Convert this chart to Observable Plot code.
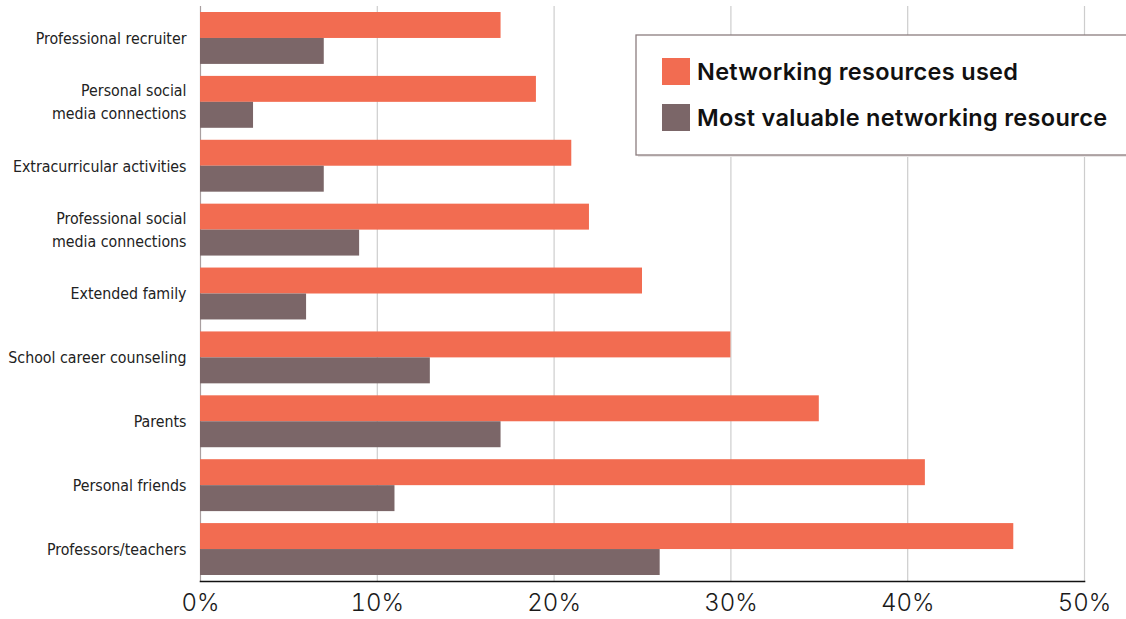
<!DOCTYPE html>
<html>
<head>
<meta charset="utf-8">
<script src="https://cdn.jsdelivr.net/npm/d3@7"></script>
<script src="https://cdn.jsdelivr.net/npm/@observablehq/plot@0.6"></script>
<style>
  html, body { margin: 0; padding: 0; background: #fff; }
  #chart { width: 1126px; height: 619px; overflow: hidden; }
</style>
</head>
<body>
<div id="chart"></div>
<script>
const categories = [
  "Professional recruiter",
  "Personal social\nmedia connections",
  "Extracurricular activities",
  "Professional social\nmedia connections",
  "Extended family",
  "School career counseling",
  "Parents",
  "Personal friends",
  "Professors/teachers"
];
const usedValues = [17, 19, 21, 22, 25, 30, 35, 41, 46];
const valuableValues = [7, 3, 7, 9, 6, 13, 17, 11, 26];
const seriesNames = ["Networking resources used", "Most valuable networking resource"];
const seriesColors = ["#F26C51", "#7B6668"];
const xTicks = [0, 10, 20, 30, 40, 50];

const rows = categories.map((c, i) => ({category: c, used: usedValues[i], valuable: valuableValues[i]}));

const W = 1126, H = 619, mT = 6, mB = 38, mL = 200, mR = 42;
const padIn = 0.1875, padOut = 0.094;
const step = (H - mT - mB) / (categories.length - padIn + 2 * padOut);
const half = step * (1 - padIn) / 2;

const chart = Plot.plot({
  width: W, height: H,
  marginTop: mT, marginBottom: mB, marginLeft: mL, marginRight: mR,
  style: {fontFamily: "'DejaVu Sans Condensed', 'Liberation Sans Narrow', sans-serif", background: "#fff"},
  x: {domain: [0, 50], ticks: xTicks, tickFormat: d => d + "%"},
  y: {domain: categories, paddingInner: padIn, paddingOuter: padOut, round: false, label: null},
  marks: [
    Plot.ruleX(xTicks.slice(1), {stroke: "#cdcdcd", strokeWidth: 1.2}),
    Plot.ruleX([0], {stroke: "#a99fa0", strokeWidth: 1.2}),
    Plot.barX(rows, {x: "used", y: "category", fill: seriesColors[0], insetBottom: half}),
    Plot.barX(rows, {x: "valuable", y: "category", fill: seriesColors[1], insetTop: half}),
    Plot.frame({anchor: "bottom", stroke: "#111", strokeWidth: 1.6}),
    Plot.axisX({ticks: xTicks, tickFormat: d => d + "%", tickSize: 0, tickPadding: 12, fontSize: 24, fill: "#1a1a1a", fontFamily: "Inter, Lato, sans-serif", fontWeight: 300, label: null}),
    Plot.axisY({tickSize: 0, tickPadding: 14, fontSize: 15.8, dy: -2, fill: "#222", lineHeight: 1.45, label: null})
  ]
});

document.getElementById("chart").appendChild(chart);

// Legend inside the plot area
const svg = d3.select(chart);
const lg = svg.append("g").attr("class", "legend").attr("text-anchor", "start");
lg.append("rect")
  .attr("x", 638).attr("y", 37).attr("width", 520).attr("height", 120)
  .attr("fill", "#e9e6e6");
lg.append("rect")
  .attr("x", 636).attr("y", 35).attr("width", 520).attr("height", 120)
  .attr("fill", "#fff").attr("stroke", "#8c7d7f").attr("stroke-width", 1.3);
seriesNames.forEach((name, i) => {
  lg.append("rect")
    .attr("x", 662).attr("y", 58 + i * 46).attr("width", 28).attr("height", 27)
    .attr("fill", seriesColors[i]);
  lg.append("text")
    .attr("x", 697).attr("y", 80 + i * 46)
    .attr("text-anchor", "start")
    .attr("font-family", "Inter, Lato, sans-serif")
    .attr("font-weight", 600).attr("font-size", 23.5).attr("fill", "#111")
    .attr("letter-spacing", 0.3)
    .text(name);
});
</script>
</body>
</html>
